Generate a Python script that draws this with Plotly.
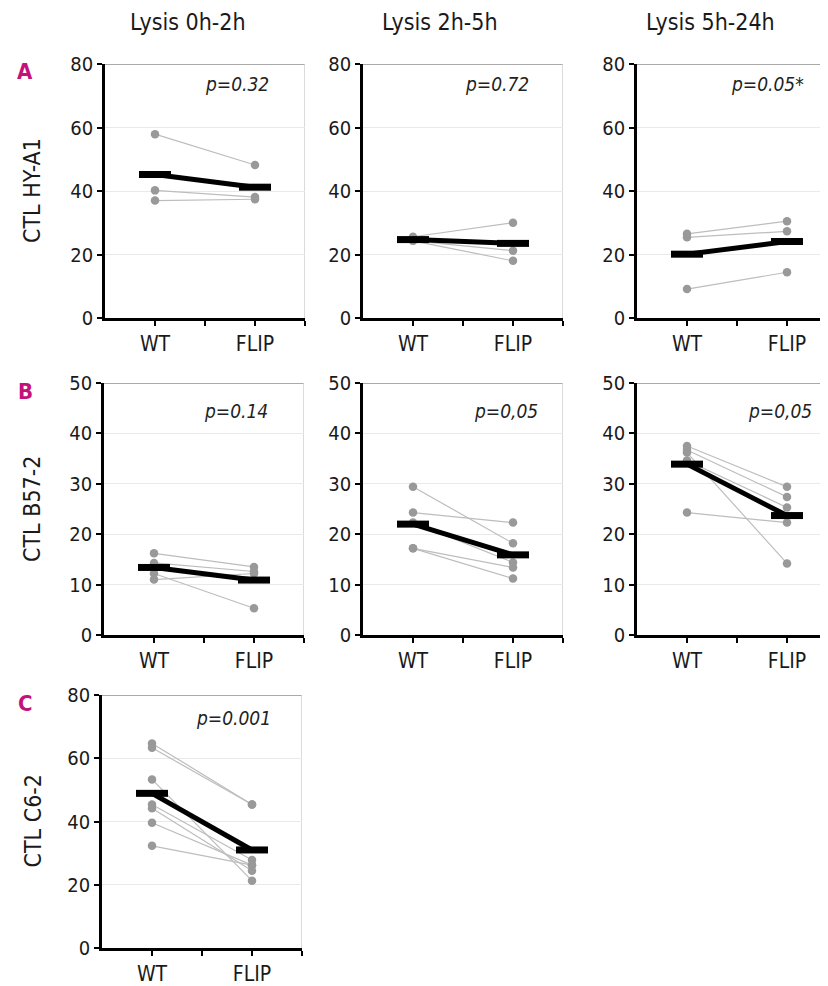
import plotly.graph_objects as go

# ---------------- data ----------------
groups = ["WT", "FLIP"]
col_titles = ["Lysis 0h-2h", "Lysis 2h-5h", "Lysis 5h-24h"]
row_labels = ["CTL HY-A1", "CTL B57-2", "CTL C6-2"]
row_letters = ["A", "B", "C"]

a1_wt = [57.9, 40.2, 37.0]
a1_flip = [48.2, 38.1, 37.4]
a1_mean = [45.2, 41.2]

a2_wt = [25.6, 24.3, 24.3]
a2_flip = [30.0, 21.2, 18.0]
a2_mean = [24.7, 23.5]

a3_wt = [26.5, 25.4, 9.1]
a3_flip = [30.5, 27.3, 14.4]
a3_mean = [20.1, 24.1]

b1_wt = [16.2, 14.3, 11.0, 12.2]
b1_flip = [13.5, 12.6, 12.2, 5.3]
b1_mean = [13.4, 10.9]

b2_wt = [29.4, 24.3, 22.3, 17.2, 17.2]
b2_flip = [18.2, 22.3, 14.4, 13.4, 11.2]
b2_mean = [22.0, 15.9]

b3_wt = [37.5, 36.7, 36.2, 34.6, 24.3]
b3_flip = [29.4, 27.4, 14.2, 25.3, 22.3]
b3_mean = [33.9, 23.7]

c1_wt = [64.7, 63.3, 53.3, 45.4, 44.2, 39.6, 32.3]
c1_flip = [45.4, 45.4, 21.3, 27.8, 24.4, 26.2, 26.2]
c1_mean = [48.9, 31.0]

p_values = ["p=0.32", "p=0.72", "p=0.05*", "p=0.14", "p=0,05", "p=0,05", "p=0.001"]
y_max = [80, 80, 80, 50, 50, 50, 80]
y_dtick = [20, 20, 20, 10, 10, 10, 20]

panels = [
    (a1_wt, a1_flip, a1_mean),
    (a2_wt, a2_flip, a2_mean),
    (a3_wt, a3_flip, a3_mean),
    (b1_wt, b1_flip, b1_mean),
    (b2_wt, b2_flip, b2_mean),
    (b3_wt, b3_flip, b3_mean),
    (c1_wt, c1_flip, c1_mean),
]

# ---------------- layout geometry (pixels, page coords) ----------------
OFFX, OFFY = 8, 8            # default body margin of the html page
W, H = 828 - OFFX, 986 - OFFY
FONT = "DejaVu Sans Condensed, Liberation Sans Narrow, DejaVu Sans, sans-serif"
panel_left = [105, 363, 637, 104, 363, 637, 102]
panel_col = [0, 1, 2, 0, 1, 2, 0]
panel_row = [0, 0, 0, 1, 1, 1, 2]
col_width = [200, 200, 200]
col_title_x = [188, 440, 710]
row_top = [64, 383, 695]
row_bottom = [318, 635, 948]
p_x = [2.16, 2.18, 2.19, 2.16, 2.27, 2.27, 2.21]
p_yfrac = [0.92, 0.92, 0.92, 0.89, 0.89, 0.89, 0.91]


def px(x):
    return (x - OFFX) / W


def py(y):
    return 1 - (y - OFFY) / H


fig = go.Figure()
layout = {}
shapes = []
annotations = []

for i, (wt, flip, mean) in enumerate(panels):
    r, c = panel_row[i], panel_col[i]
    idx = "" if i == 0 else str(i + 1)
    xa, ya = "x" + idx, "y" + idx
    left = panel_left[i]
    right_px = min(W + OFFX, left + col_width[c])
    xr = [0.5, 0.5 + (right_px - left) / 100.0]

    lx, ly = [], []
    for a, b in zip(wt, flip):
        lx += [1, 2, None]
        ly += [a, b, None]
    fig.add_trace(go.Scatter(x=lx, y=ly, mode="lines", xaxis=xa, yaxis=ya,
                             line=dict(color="#bdbdbd", width=1.2),
                             hoverinfo="skip", showlegend=False))
    fig.add_trace(go.Scatter(x=[1] * len(wt) + [2] * len(flip), y=list(wt) + list(flip),
                             mode="markers", xaxis=xa, yaxis=ya,
                             marker=dict(color="#999999", size=8.5),
                             showlegend=False))
    fig.add_trace(go.Scatter(x=[1, 2], y=mean, mode="lines", xaxis=xa, yaxis=ya,
                             line=dict(color="black", width=5), showlegend=False))
    fig.add_trace(go.Scatter(x=[0.84, 1.16, None, 1.84, 2.16],
                             y=[mean[0], mean[0], None, mean[1], mean[1]],
                             mode="lines", xaxis=xa, yaxis=ya,
                             line=dict(color="black", width=7), showlegend=False))

    layout["xaxis" + idx] = dict(
        domain=[px(left), px(right_px)], range=xr, anchor=ya, automargin=False,
        tickvals=[1, 1.5, 2, 2.5], ticktext=[groups[0], "", groups[1], ""],
        ticks="outside", ticklen=5, tickwidth=2, tickcolor="black",
        showline=True, linecolor="black", linewidth=2.5,
        showgrid=False, zeroline=False,
        tickfont=dict(family=FONT, size=21, color="#1a1a1a"),
    )
    layout["yaxis" + idx] = dict(
        domain=[py(row_bottom[r]), py(row_top[r])], range=[0, y_max[i]], anchor=xa,
        automargin=False, dtick=y_dtick[i], tick0=0,
        ticks="outside", ticklen=5, tickwidth=2, tickcolor="black",
        showline=True, linecolor="black", linewidth=2.5,
        showgrid=True, gridcolor="#e9e9e9", gridwidth=1, zeroline=False,
        tickfont=dict(family=FONT, size=20, color="#1a1a1a"),
    )
    # top and right frame
    shapes.append(dict(type="line", xref=xa, yref=ya, x0=xr[0], x1=xr[1],
                       y0=y_max[i], y1=y_max[i], line=dict(color="#aaaaaa", width=2),
                       layer="below"))
    if right_px < W + OFFX:
        shapes.append(dict(type="line", xref=xa, yref=ya, x0=xr[1], x1=xr[1],
                           y0=0, y1=y_max[i], line=dict(color="#cfcfcf", width=1.5),
                           layer="below"))
    annotations.append(dict(xref=xa, yref=ya, x=p_x[i], y=p_yfrac[i] * y_max[i],
                            text="<i>" + p_values[i] + "</i>", showarrow=False,
                            xanchor="right", yanchor="middle",
                            font=dict(family=FONT, size=19, color="#222222")))

# column titles
for c, t in enumerate(col_titles):
    annotations.append(dict(xref="paper", yref="paper",
                            x=px(col_title_x[c]), y=py(22), text=t,
                            showarrow=False, xanchor="center", yanchor="middle",
                            font=dict(family=FONT, size=23, color="#1a1a1a")))
# row labels and letters
for r, (lab, let) in enumerate(zip(row_labels, row_letters)):
    yc = py((row_top[r] + row_bottom[r]) / 2)
    annotations.append(dict(xref="paper", yref="paper", x=px(32), y=yc, text=lab,
                            textangle=-90, showarrow=False, xanchor="center",
                            yanchor="middle",
                            font=dict(family=FONT, size=23, color="#1a1a1a")))
    annotations.append(dict(xref="paper", yref="paper", x=px(25),
                            y=py(row_top[r] + 8), text="<b>" + let + "</b>",
                            showarrow=False, xanchor="center", yanchor="middle",
                            font=dict(family=FONT, size=22, color="#c4127c")))

fig.update_layout(
    width=W, height=H, margin=dict(l=0, r=0, t=0, b=0, autoexpand=False),
    paper_bgcolor="white", plot_bgcolor="white",
    shapes=shapes, annotations=annotations, showlegend=False,
    **layout,
)
fig.write_html("out.html")
